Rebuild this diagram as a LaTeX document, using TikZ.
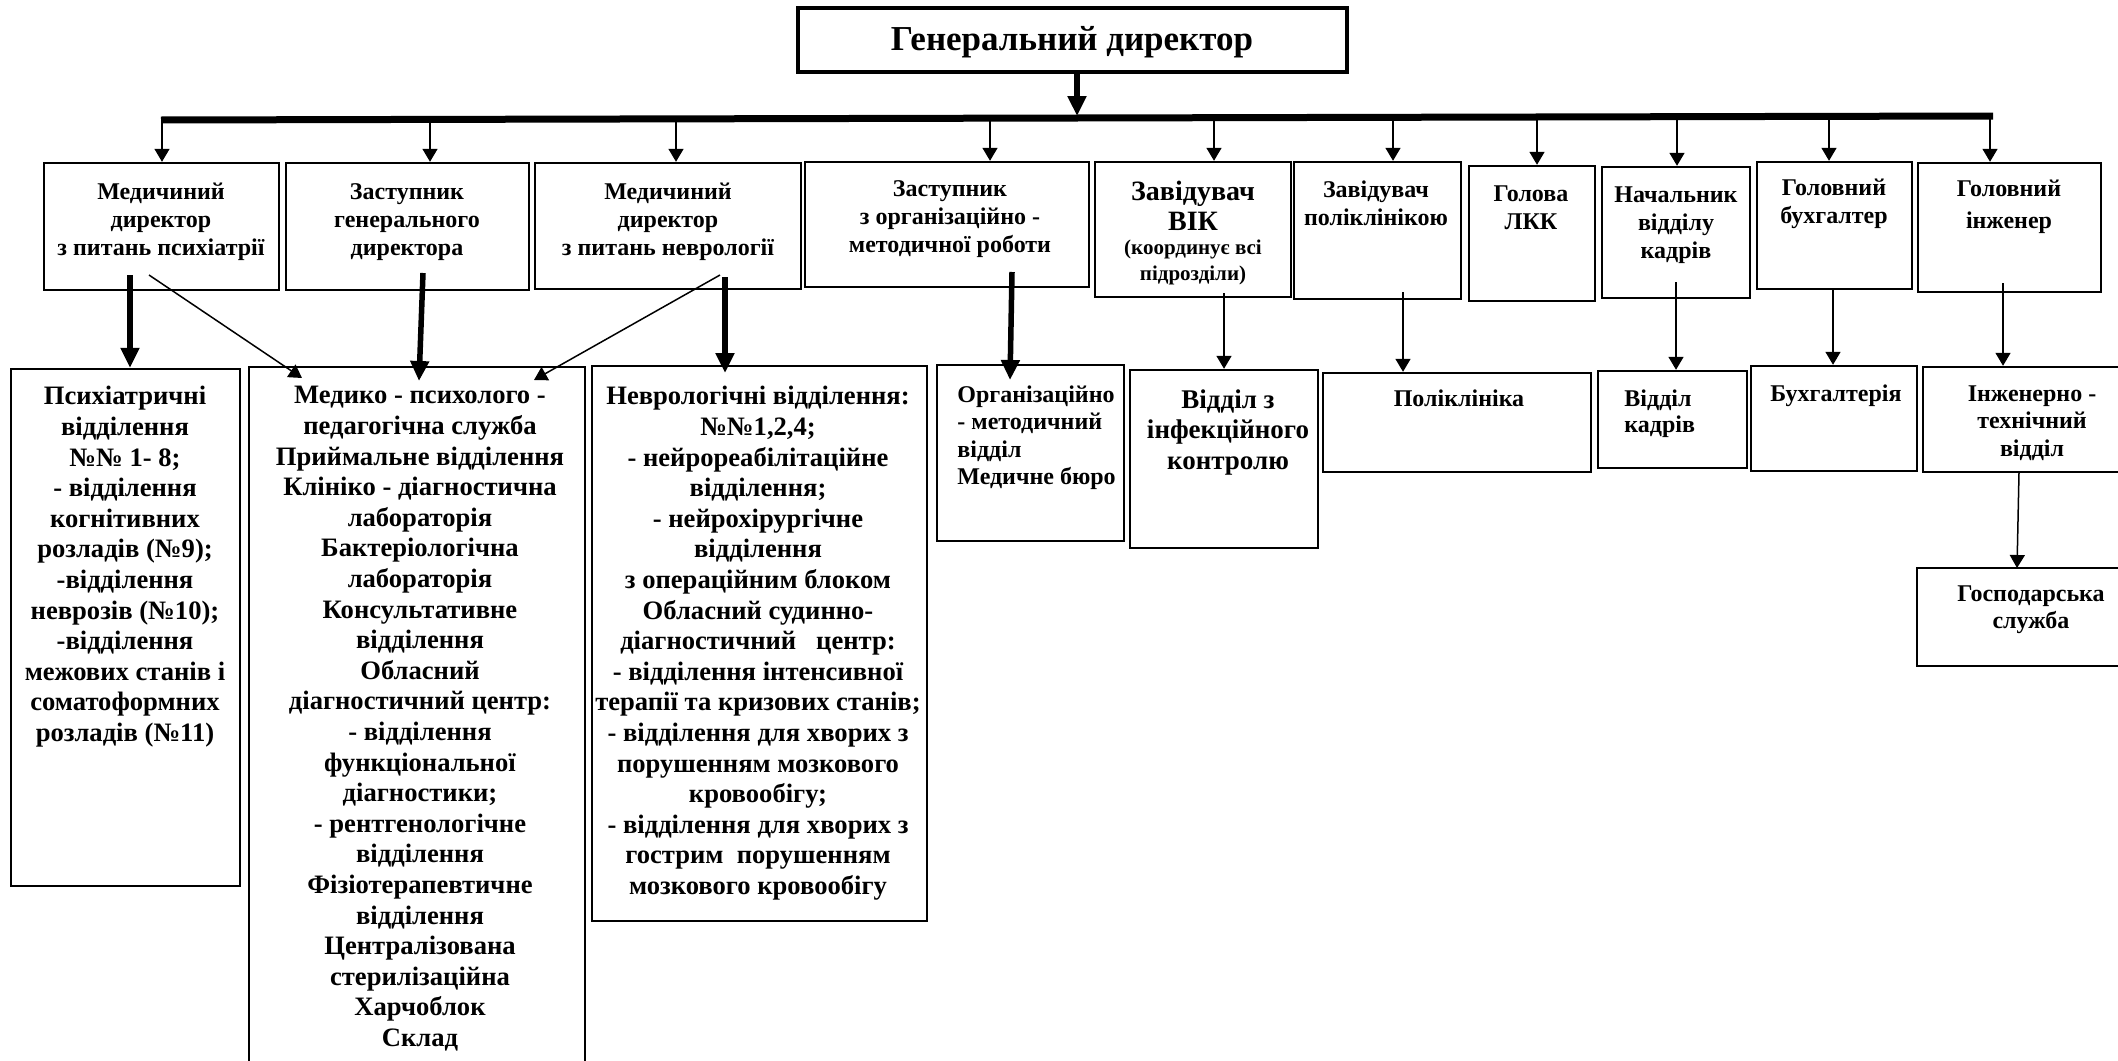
\documentclass[tikz,border=0pt]{standalone}
\usepackage{fontspec}
\setmainfont{Liberation Serif}
\usetikzlibrary{arrows.meta,fit,calc}
\begin{document}
\begin{tikzpicture}[x=0.5pt,y=-0.5pt,
  box/.style={draw, line width=1.2pt, inner sep=0pt},
  topbox/.style={draw, line width=2pt, inner sep=0pt},
  utext/.style={font=\bfseries\fontsize{12}{14}\selectfont, align=center, inner sep=0pt, anchor=north},
  wtext/.style={font=\bfseries\fontsize{13.3}{15.3}\selectfont, align=center, inner sep=0pt, anchor=north},
  thinarr/.style={line width=0.75pt, -{Triangle[width=7.5pt,length=6.5pt]}},
  thickarr/.style={line width=2.75pt, -{Triangle[width=9pt,length=10pt]}},
  busline/.style={line width=3.5pt}
]
\fill[white] (0,0) rectangle (2118,1060);
\clip (0,0) rectangle (2118,1060);

% top
\node[topbox, fit={(798,8) (1347,72)}] (top) {};
\node[font=\bfseries\fontsize{17.5}{20}\selectfont, inner sep=0pt] (toptext) at (1072,42) {Генеральний директор};

% bus
\coordinate (busL) at (161,120);
\coordinate (busR) at (1993,116);
\draw[busline] (busL) -- (busR);
\coordinate (ts) at (1077,72);
\coordinate (dtop) at (1077,116);
\draw[thickarr] (ts) -- (dtop);

% second row boxes
\node[box, fit={(44,163) (279,290)}] (u1) {};
\node[box, fit={(286,163) (529,290)}] (u2) {};
\node[box, fit={(535,163) (801,289)}] (u3) {};
\node[box, fit={(805,162) (1089,287)}] (u4) {};
\node[box, fit={(1095,162) (1291,297)}] (u5) {};
\node[box, fit={(1294,162) (1461,299)}] (u6) {};
\node[box, fit={(1469,166) (1595,301)}] (u7) {};
\node[box, fit={(1602,167) (1750,298)}] (u8) {};
\node[box, fit={(1757,162) (1912,289)}] (u9) {};
\node[box, fit={(1918,163) (2101,292)}] (u10) {};

\node[utext] (t1) at (161,183) {Медичиний\\директор\\з питань психіатрії};
\node[utext] (t2) at (407,183) {Заступник\\генерального\\директора};
\node[utext] (t3) at (668,183) {Медичиний\\директор\\з питань неврології};
\node[utext] (t4) at (950,180) {Заступник\\з організаційно -\\методичної роботи};
\node[utext, font=\bfseries\fontsize{14}{15}\selectfont] (t5a) at (1193,181) {Завідувач\\ВІК};
\node[utext, font=\bfseries\fontsize{10.5}{13}\selectfont] (t5b) at (1193,240) {(координує всі\\підрозділи)};
\node[utext] (t6) at (1376,180) {Завідувач\\поліклінікою};
\node[utext] (t7) at (1531,185) {Голова\\ЛКК};
\node[utext] (t8) at (1676,186) {Начальник\\відділу\\кадрів};
\node[utext] (t9) at (1834,179) {Головний\\бухгалтер};
\node[utext] (t10) at (2009,180) {Головний\\[2pt]інженер};

% drops from bus
\coordinate (d1) at (162,120);
\coordinate (d2) at (430,119.4);
\coordinate (d3) at (676,118.9);
\coordinate (d4) at (990,118.2);
\coordinate (d5) at (1214,117.7);
\coordinate (d6) at (1393,117.3);
\coordinate (d7) at (1537,117);
\coordinate (d8) at (1677,113);
\coordinate (d9) at (1829,116.4);
\coordinate (d10) at (1990,116);
\draw[thinarr] (d1) -- (d1 |- u1.north);
\draw[thinarr] (d2) -- (d2 |- u2.north);
\draw[thinarr] (d3) -- (d3 |- u3.north);
\draw[thinarr] (d4) -- (d4 |- u4.north);
\draw[thinarr] (d5) -- (d5 |- u5.north);
\draw[thinarr] (d6) -- (d6 |- u6.north);
\draw[thinarr] (d7) -- (d7 |- u7.north);
\draw[thinarr] (d8) -- (d8 |- u8.north);
\draw[thinarr] (d9) -- (d9 |- u9.north);
\draw[thinarr] (d10) -- (d10 |- u10.north);

% bottom boxes
\node[box, fit={(11,369) (240,886)}] (A) {};
\node[box, fit={(249,367) (585,1075)}] (B) {};
\node[box, fit={(592,366) (927,921)}] (C) {};
\node[box, fit={(937,365) (1124,541)}] (D) {};
\node[box, fit={(1130,370) (1318,548)}] (E) {};
\node[box, fit={(1323,373) (1591,472)}] (F) {};
\node[box, fit={(1598,371) (1747,468)}] (G) {};
\node[box, fit={(1751,366) (1917,471)}] (H) {};
\node[box, fit={(1923,367) (2145,472)}] (I) {};
\node[box, fit={(1917,568) (2145,666)}] (J) {};

\node[wtext] (tA) at (125,386) {Психіатричні\\відділення\\№№ 1- 8;\\- відділення\\когнітивних\\розладів (№9);\\-відділення\\неврозів (№10);\\-відділення\\межових станів і\\соматоформних\\розладів (№11)};
\node[wtext] (tB) at (420,386) {Медико - психолого -\\педагогічна служба\\Приймальне відділення\\Клініко - діагностична\\лабораторія\\Бактеріологічна\\лабораторія\\Консультативне\\відділення\\Обласний\\діагностичний центр:\\- відділення\\функціональної\\діагностики;\\- рентгенологічне\\відділення\\Фізіотерапевтичне\\відділення\\Централізована\\стерилізаційна\\Харчоблок\\Склад};
\node[wtext] (tC) at (758,386) {Неврологічні відділення:\\№№1,2,4;\\- нейрореабілітаційне\\відділення;\\- нейрохірургічне\\відділення\\з операційним блоком\\Обласний судинно-\\діагностичний\ \ \ центр:\\- відділення інтенсивної\\терапії та кризових станів;\\- відділення для хворих з\\порушенням мозкового\\кровообігу;\\- відділення для хворих з\\гострим\ \ порушенням\\мозкового кровообігу};
\node[font=\bfseries\fontsize{12}{13.75}\selectfont, align=left, inner sep=0pt, anchor=north west] (tD) at (957,385) {Організаційно\\- методичний\\відділ\\Медичне бюро};
\node[utext, font=\bfseries\fontsize{13.5}{15.25}\selectfont] (tE) at (1228,389) {Відділ з\\інфекційного\\контролю};
\node[utext] (tF) at (1459,389) {Поліклініка};
\node[font=\bfseries\fontsize{12}{13}\selectfont, align=left, inner sep=0pt, anchor=north west] (tG) at (1624,389) {Відділ\\кадрів};
\node[utext] (tH) at (1836,384) {Бухгалтерія};
\node[utext, font=\bfseries\fontsize{12}{13.75}\selectfont] (tI) at (2032,385) {Інженерно -\\технічний\\відділ};
\node[utext, font=\bfseries\fontsize{12}{13.5}\selectfont] (tJ) at (2031,585) {Господарська\\служба};

% lower connectors
\coordinate (s1) at (130,275);
\draw[thickarr] (s1) -- (s1 |- A.north);
\coordinate (s1b) at (149,275);
\coordinate (e1b) at (302,378);
\draw[thinarr] (s1b) -- (e1b);
\coordinate (s2) at (423,273);
\coordinate (e2) at (419,381);
\draw[thickarr] (s2) -- (e2);
\coordinate (s3b) at (720,275);
\coordinate (e3b) at (534,380);
\draw[thinarr] (s3b) -- (e3b);
\coordinate (s3) at (725,277);
\coordinate (e3) at (725,373);
\draw[thickarr] (s3) -- (e3);
\coordinate (s4) at (1012,272);
\coordinate (e4) at (1010,380);
\draw[thickarr] (s4) -- (e4);
\coordinate (s5) at (1224,293);
\draw[thinarr] (s5) -- (s5 |- E.north);
\coordinate (s6) at (1403,292);
\draw[thinarr] (s6) -- (s6 |- F.north);
\coordinate (s8) at (1676,282);
\draw[thinarr] (s8) -- (s8 |- G.north);
\coordinate (s9) at (1833,290);
\draw[thinarr] (s9) -- (s9 |- H.north);
\coordinate (s10) at (2003,283);
\draw[thinarr] (s10) -- (s10 |- I.north);
\coordinate (sI) at (2019,472);
\coordinate (eJ) at (2017,568);
\draw[thinarr] (sI) -- (eJ);
\end{tikzpicture}
\end{document}
